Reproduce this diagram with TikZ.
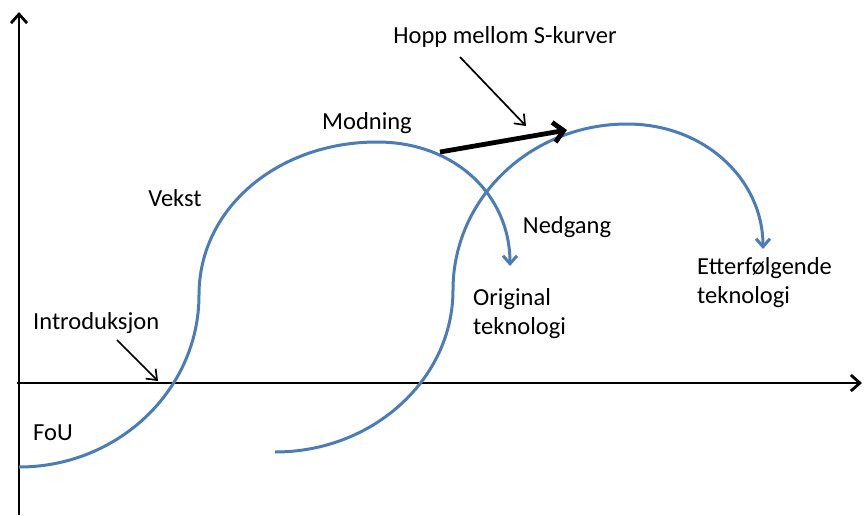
\documentclass[tikz,border=0pt]{standalone}
\usepackage{fontspec}
\setmainfont{Carlito}
\usetikzlibrary{arrows.meta}

\definecolor{kurveblaa}{RGB}{74,124,184}

\tikzset{
	akse/.style={line width=2.8pt, -{Straight Barb[length=9pt,width=16pt]}},
	kurve/.style={kurveblaa, line width=3pt, -{Straight Barb[length=8pt,width=14pt]}},
	hopp/.style={line width=4.8pt, -{Straight Barb[length=10pt,width=20pt]}},
	peker/.style={line width=1.7pt, -{Straight Barb[length=9pt,width=14pt]}},
	etikett/.style={inner sep=0pt, font=\fontsize{24.5}{29}\selectfont}
}

\begin{document}
\begin{tikzpicture}[x=1pt, y=-1pt]
		\useasboundingbox (0,0) rectangle (865,515);
		
		% akser
		\draw [akse] (19,515) -- (19,12);
		\draw [akse] (17,383) -- (862,383);
		
		% original teknologi
		\draw [kurve] (19,467) .. controls (118,467) and (199,390) .. (199,295)
			.. controls (199,208) and (278,142) .. (377,142)
			.. controls (455,142) and (510,195) .. (510,266);
		
		% etterfoelgende teknologi
		\draw [kurve] (275,452) .. controls (373,452) and (453,379) .. (453,290)
			.. controls (453,198) and (531,124) .. (627,124)
			.. controls (705,124) and (763,180) .. (763,249);
		
		\node [etikett, anchor=west] (fou) at (33,433) {FoU};
		\node [etikett, anchor=west] (intro) at (33,323) {Introduksjon};
		\node [etikett] (vekst) at (175,198) {Vekst};
		\node [etikett] (modning) at (367,123) {Modning};
		\node [etikett] (nedgang) at (567,227) {Nedgang};
		\node [etikett, anchor=west, align=left] (original) at (473,314) {Original\\teknologi};
		\node [etikett, anchor=west, align=left] (etterf) at (697,283) {Etterfølgende\\teknologi};
		\node [etikett] (hoppmellom) at (505,37) {Hopp mellom S-kurver};
		
		% piler
		\coordinate (introfra) at (117,340);
		\coordinate (introtil) at (158,381);
		\draw [peker] (introfra) -- (introtil);
		
		\coordinate (hoppfra) at (460,57);
		\coordinate (hopptil) at (526,126);
		\draw [peker] (hoppfra) -- (hopptil);
		
		\coordinate (hoppstart) at (440,152);
		\coordinate (hoppslutt) at (567,130);
		\draw [hopp] (hoppstart) -- (hoppslutt);
		
\end{tikzpicture}
\end{document}
